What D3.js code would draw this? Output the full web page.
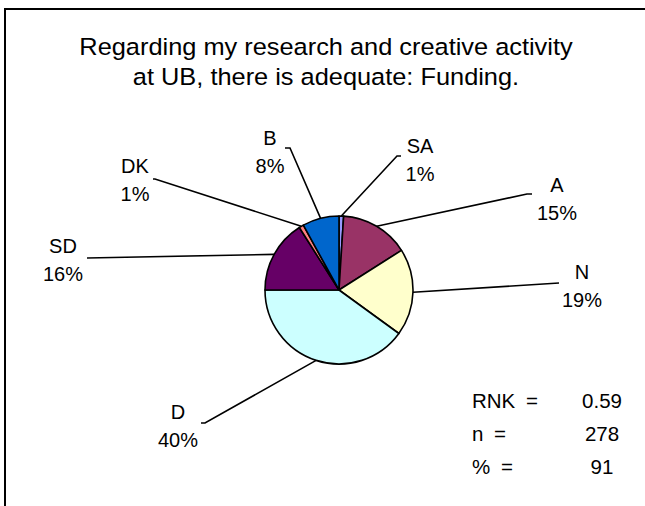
<!DOCTYPE html>
<html>
<head>
<meta charset="utf-8">
<script src="https://cdn.jsdelivr.net/npm/d3@7"></script>
<style>
  html, body { margin: 0; padding: 0; background: #fff; }
  svg { display: block; }
  text { font-family: "Liberation Sans", Arial, sans-serif; fill: #000; }
</style>
</head>
<body>
<svg id="chart" width="645" height="506"></svg>
<script>
// ---- data ----
const categories = ["SA", "A", "N", "D", "SD", "DK", "B"];
const percents   = [1, 15, 19, 40, 16, 1, 8];
const colors     = ["#9999FF", "#993366", "#FFFFCC", "#CCFFFF", "#660066", "#FF8080", "#0066CC"];
const titleLines = ["Regarding my research and creative activity", "at UB, there is adequate: Funding."];
const statLabels = ["RNK =", "n =", "% ="];
const statValues = ["0.59", "278", "91"];

// ---- layout (label placement, not data) ----
const cx = 339, cy = 290, R = 74;
const labelLayout = {
  SA: { tx: 420, ty: 153, elbow: [397, 156], end: [401, 156] },
  A:  { tx: 557, ty: 192, elbow: [527, 194], end: [532, 194] },
  N:  { tx: 582, ty: 279, elbow: [559, 283], end: [559, 283] },
  D:  { tx: 178, ty: 419, elbow: [205, 423], end: [201, 423] },
  SD: { tx: 63,  ty: 253, elbow: [87, 258],  end: [87, 258] },
  DK: { tx: 135, ty: 173, elbow: [155, 179], end: [153, 179] },
  B:  { tx: 270, ty: 145, elbow: [290, 148], end: [285, 148] }
};

const svg = d3.select("#chart");

// frame (left and top edges visible)
svg.append("path")
  .attr("d", "M5,506V9H645")
  .attr("fill", "none").attr("stroke", "#000").attr("stroke-width", 2);

// title
svg.append("g").selectAll("text").data(titleLines).join("text")
  .attr("x", 326).attr("y", (d, i) => 55 + i * 30)
  .attr("text-anchor", "middle")
  .style("font-size", "23.5px")
  .attr("transform", "translate(326,0) scale(1.08,1) translate(-326,0)")
  .text(d => d);

const data = categories.map((c, i) => ({ cat: c, value: percents[i], color: colors[i] }));
const pie = d3.pie().value(d => d.value).sort(null).startAngle(0).endAngle(2 * Math.PI);
const arcs = pie(data);
const arc = d3.arc().innerRadius(0).outerRadius(R);

const g = svg.append("g").attr("transform", `translate(${cx},${cy})`);
g.selectAll("path").data(arcs).join("path")
  .attr("d", arc)
  .attr("fill", d => d.data.color)
  .attr("stroke", "#000").attr("stroke-width", 1.6).attr("stroke-linejoin", "round");

// leader lines
svg.append("g").selectAll("path").data(arcs).join("path")
  .attr("fill", "none").attr("stroke", "#000").attr("stroke-width", 1.6)
  .attr("d", d => {
    const a = (d.startAngle + d.endAngle) / 2;
    const sx = cx + R * Math.sin(a), sy = cy - R * Math.cos(a);
    const L = labelLayout[d.data.cat];
    return `M${sx},${sy}L${L.elbow[0]},${L.elbow[1]}L${L.end[0]},${L.end[1]}`;
  });

// labels
const lab = svg.append("g").selectAll("g").data(arcs).join("g");
lab.append("text")
  .attr("x", d => labelLayout[d.data.cat].tx)
  .attr("y", d => labelLayout[d.data.cat].ty)
  .attr("text-anchor", "middle").style("font-size", "20px")
  .text(d => d.data.cat);
lab.append("text")
  .attr("x", d => labelLayout[d.data.cat].tx)
  .attr("y", d => labelLayout[d.data.cat].ty + 28)
  .attr("text-anchor", "middle").style("font-size", "20px")
  .text(d => d.data.value + "%");

// stats block
const st = svg.append("g");
st.selectAll("text.lbl").data(statLabels).join("text").attr("class", "lbl")
  .attr("x", 472).attr("y", (d, i) => 408 + i * 33)
  .style("font-size", "20.5px").style("word-spacing", "5px")
  .text(d => d);
st.selectAll("text.val").data(statValues).join("text").attr("class", "val")
  .attr("x", 602).attr("y", (d, i) => 408 + i * 33)
  .attr("text-anchor", "middle").style("font-size", "20.5px")
  .text(d => d);
</script>
</body>
</html>
